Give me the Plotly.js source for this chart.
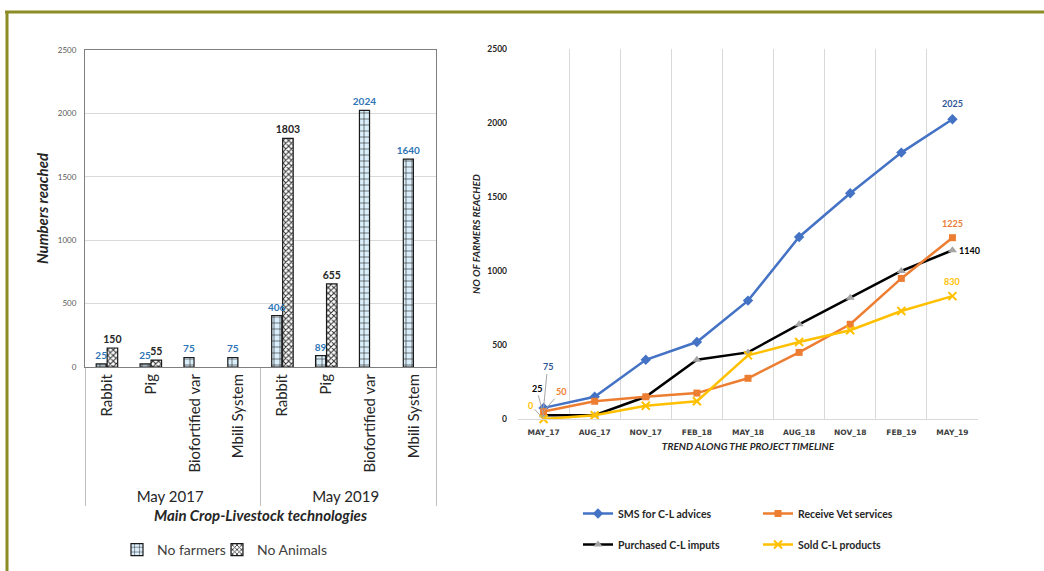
<!DOCTYPE html>
<html><head><meta charset="utf-8">
<script src="https://cdn.plot.ly/plotly-3.0.1.min.js"></script>
<style>html,body{margin:0;padding:0;background:#fff;} #chart{width:1044px;height:571px;}</style>
</head><body><div id="chart"></div>
<script>
// ---- Left chart data ----
const periods = ['May 2017','May 2017','May 2017','May 2017','May 2019','May 2019','May 2019','May 2019'];
const technologies = ['Rabbit','Pig','Biofortified var','Mbili System','Rabbit','Pig','Biofortified var','Mbili System'];
const noFarmers = [25,25,75,75,406,89,2024,1640];
const noAnimals = [150,55,null,null,1803,655,null,null];
const leftTicks = [0,500,1000,1500,2000,2500];

// ---- Right chart data ----
const timeline = ['MAY_17','AUG_17','NOV_17','FEB_18','MAY_18','AUG_18','NOV_18','FEB_19','MAY_19'];
const smsAdvices = [75,150,400,520,800,1230,1525,1800,2025];
const vetServices = [50,120,150,175,275,450,640,950,1225];
const purchasedInputs = [25,25,150,400,450,640,820,1000,1140];
const soldProducts = [0,25,90,120,430,520,600,730,830];
const rightTicks = [0,500,1000,1500,2000,2500];

const W = 1044, H = 571;
const fx = x => x / W;
const fy = y => 1 - y / H;
const FONT = 'Lato, "Open Sans", sans-serif';

const traces = [
  {
    type: 'bar', name: 'No Animals', x: [periods, technologies], y: noAnimals,
    xaxis: 'x', yaxis: 'y', legend: 'legend4', offset: 0.005, width: 0.24,
    marker: {color: '#ffffff', line: {color: '#1a1a1a', width: 1.2},
      pattern: {shape: 'x', fgcolor: '#333333', bgcolor: '#ffffff', size: 4, solidity: 0.45}},
    text: noAnimals.map(v => v == null ? '' : String(v)),
    textposition: 'outside', constraintext: 'none',
    textfont: {color: '#262626', size: 10.5, family: FONT, weight: 'bold'},
    cliponaxis: false, hoverinfo: 'none'
  },
  {
    type: 'bar', name: 'No farmers', x: [periods, technologies], y: noFarmers,
    xaxis: 'x', yaxis: 'y', legend: 'legend3', offset: -0.245, width: 0.23,
    marker: {color: '#dbeefb', line: {color: '#1a1a1a', width: 1.2},
      pattern: {shape: '+', fgcolor: '#1a1a1a', bgcolor: '#dbeefb', size: 6, solidity: 0.18}},
    text: noFarmers.map(v => v == null ? '' : String(v)),
    textposition: 'outside', constraintext: 'none',
    textfont: {color: '#2e75b6', size: 10, family: FONT, weight: 'bold'},
    cliponaxis: false, hoverinfo: 'none'
  },
  {
    type: 'scatter', mode: 'lines+markers', name: '<b>SMS for C-L advices</b>', x: timeline, y: smsAdvices,
    xaxis: 'x2', yaxis: 'y2', legend: 'legend', legendgroup: 'a',
    line: {color: '#4472c4', width: 2.5}, marker: {symbol: 'diamond', size: 8, color: '#4472c4'}, cliponaxis: false
  },
  {
    type: 'scatter', mode: 'lines+markers', name: '<b>Purchased C-L imputs</b>', x: timeline, y: purchasedInputs,
    xaxis: 'x2', yaxis: 'y2', legend: 'legend', legendgroup: 'b',
    line: {color: '#000000', width: 2.5}, marker: {symbol: 'triangle-up', size: 8, color: '#a5a5a5'}, cliponaxis: false
  },
  {
    type: 'scatter', mode: 'lines+markers', name: '<b>Receive Vet services</b>', x: timeline, y: vetServices,
    xaxis: 'x2', yaxis: 'y2', legend: 'legend2', legendgroup: 'c',
    line: {color: '#ed7d31', width: 2.5}, marker: {symbol: 'square', size: 7, color: '#ed7d31'}, cliponaxis: false
  },
  {
    type: 'scatter', mode: 'lines+markers', name: '<b>Sold C-L products</b>', x: timeline, y: soldProducts,
    xaxis: 'x2', yaxis: 'y2', legend: 'legend2', legendgroup: 'd',
    line: {color: '#ffc000', width: 2.5}, marker: {symbol: 'x-thin', size: 8, color: '#ffc000', line: {color: '#ffc000', width: 2}}, cliponaxis: false
  }
];

const last = timeline.length - 1;
function lab(series, i, color, ax, ay, arrow) {
  return {xref: 'x2', yref: 'y2', x: timeline[i], y: series[i], text: '<b>' + series[i] + '</b>',
    font: {family: FONT, size: 9, color: color}, showarrow: true, arrowhead: 0, arrowwidth: 1,
    arrowcolor: arrow ? '#a6a6a6' : 'rgba(0,0,0,0)', ax: ax, ay: ay, standoff: 0};
}
const annotations = [
  lab(smsAdvices, last, '#2f5597', 0, -16, false),
  lab(vetServices, last, '#ed7d31', 0, -14, false),
  lab(purchasedInputs, last, '#000000', 17, 0, false),
  lab(soldProducts, last, '#ffc000', 0, -15, false),
  lab(smsAdvices, 0, '#2f5597', 4, -41, true),
  lab(purchasedInputs, 0, '#000000', -7, -27, true),
  lab(vetServices, 0, '#ed7d31', 17, -20, true),
  lab(soldProducts, 0, '#ffc000', -13, -14, true)
];

const legendFontLeft = {size: 14, color: '#404040', family: FONT};
const layout = {
  width: W, height: H,
  margin: {l: 0, r: 0, t: 0, b: 0},
  paper_bgcolor: '#ffffff', plot_bgcolor: '#ffffff',
  font: {family: FONT, color: '#404040'},
  barmode: 'overlay',
  showlegend: true,
  xaxis: {
    domain: [fx(85), fx(436)], anchor: 'y', type: 'multicategory',
    tickangle: -90, tickfont: {size: 15, color: '#262626', family: FONT},
    showline: true, linecolor: '#7f7f7f', linewidth: 1, mirror: true,
    showdividers: true, dividercolor: '#bfbfbf', dividerwidth: 1,
    ticks: '', showgrid: false,
    title: {text: 'Main Crop-Livestock technologies', standoff: 6,
      font: {size: 15, color: '#262626', family: FONT, weight: 'bold', style: 'italic'}}
  },
  yaxis: {
    domain: [fy(367), fy(50)], anchor: 'x', range: [0, 2500], tickvals: leftTicks,
    tickfont: {size: 8, color: '#595959'}, showgrid: true, gridcolor: '#d9d9d9',
    showline: true, linecolor: '#7f7f7f', mirror: true, zeroline: false, ticklabelstandoff: 6,
    title: {text: 'Numbers reached', standoff: 5,
      font: {size: 15, color: '#262626', family: FONT, weight: 'bold', style: 'italic'}}
  },
  xaxis2: {
    domain: [fx(518), fx(978)], anchor: 'y2', type: 'category', range: [-0.5, 8.5],
    tickson: 'boundaries', showgrid: true, gridcolor: '#d9d9d9', gridwidth: 1, ticks: '',
    showline: true, linecolor: '#d9d9d9', ticklabelstandoff: 6,
    tickfont: {size: 7.5, color: '#404040', family: '"DejaVu Sans", sans-serif', weight: 'bold'},
    title: {text: 'TREND ALONG THE PROJECT TIMELINE', standoff: 6,
      font: {size: 10, color: '#262626', family: FONT, weight: 'bold', style: 'italic'}}
  },
  yaxis2: {
    domain: [fy(419), fy(49)], anchor: 'x2', range: [0, 2500], tickvals: rightTicks,
    showgrid: false, zeroline: false, showline: false, ticklabelstandoff: 10,
    tickfont: {size: 8.5, color: '#262626', family: FONT, weight: 'bold'},
    title: {text: 'NO OF FARMERS REACHED', standoff: 4,
      font: {size: 10, color: '#262626', family: FONT, weight: 'bold', style: 'italic'}}
  },
  legend: {x: fx(578), y: fy(499), xanchor: 'left', yanchor: 'top', orientation: 'v',
    tracegroupgap: 12, font: {size: 10.5, color: '#262626', family: FONT}, bgcolor: 'rgba(0,0,0,0)'},
  legend2: {x: fx(758), y: fy(499), xanchor: 'left', yanchor: 'top', orientation: 'v',
    tracegroupgap: 12, font: {size: 10.5, color: '#262626', family: FONT}, bgcolor: 'rgba(0,0,0,0)'},
  legend3: {x: fx(117), y: fy(550), xanchor: 'left', yanchor: 'middle', orientation: 'h',
    font: legendFontLeft, bgcolor: 'rgba(0,0,0,0)', itemwidth: 30},
  legend4: {x: fx(217), y: fy(550), xanchor: 'left', yanchor: 'middle', orientation: 'h',
    font: legendFontLeft, bgcolor: 'rgba(0,0,0,0)', itemwidth: 30},
  annotations: annotations,
  shapes: [
    {type: 'line', xref: 'paper', yref: 'paper', x0: fx(5), x1: 1, y0: fy(12), y1: fy(12), line: {color: '#8c8c26', width: 3}},
    {type: 'line', xref: 'paper', yref: 'paper', x0: fx(7), x1: fx(7), y0: fy(11), y1: 0, line: {color: '#8c8c26', width: 3}}
  ]
};

Plotly.newPlot('chart', traces, layout, {displayModeBar: false, staticPlot: true});
</script>
</body></html>
